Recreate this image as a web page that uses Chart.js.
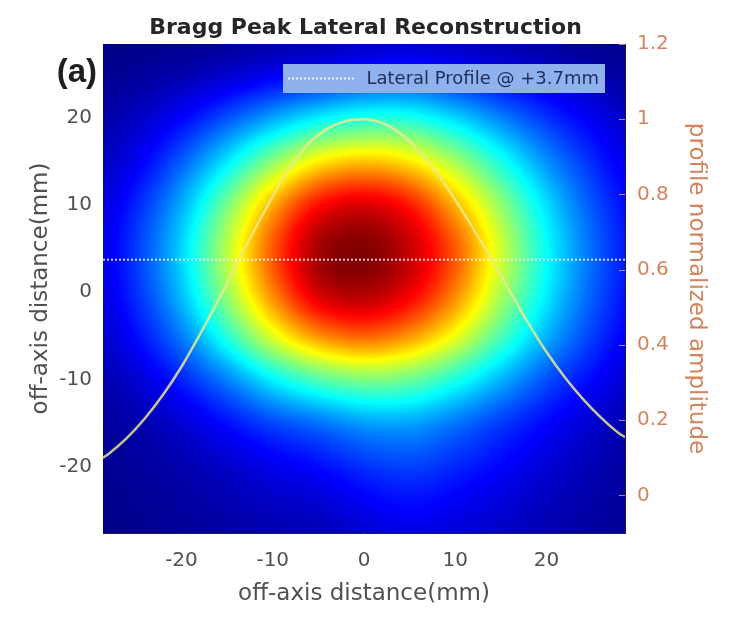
<!DOCTYPE html>
<html>
<head>
<meta charset="utf-8">
<title>Bragg Peak Lateral Reconstruction</title>
<script src="https://cdn.jsdelivr.net/npm/chart.js@4.4.1/dist/chart.umd.min.js"></script>
<style>
  html, body { margin: 0; padding: 0; background: #fff; }
</style>
</head>
<body>
<canvas id="myChart" width="731" height="617"></canvas>
<script>
// Axis limits (mm for the map, normalized units for the profile)
const xLimits = [-28.6, 28.6];
const yLimits = [-27.6, 28.4];
const ampLimits = [-0.1, 1.2];

const xTicks = [-20, -10, 0, 10, 20];
const yTicks = [-20, -10, 0, 10, 20];
const ampTicks = [0, 0.2, 0.4, 0.6, 0.8, 1, 1.2];

// Lateral profile taken at +3.7 mm
const profileDepth = 3.7;
const profileX = [-28.6, -28, -26, -24, -22, -20, -18, -16, -14, -12, -10, -8, -6, -4, -2, 0,
                  2, 4, 6, 8, 10, 12, 14, 16, 18, 20, 22, 24, 26, 28, 28.6];
const profileAmp = [0.100, 0.110, 0.152, 0.205, 0.268, 0.342, 0.427, 0.517, 0.612, 0.706, 0.795, 0.876, 0.937, 0.975, 0.995, 1.0,
                    0.990, 0.962, 0.916, 0.857, 0.786, 0.708, 0.627, 0.542, 0.458, 0.381, 0.314, 0.256, 0.206, 0.164, 0.155];

// Reconstructed dose map, sampled every 5 mm (rows run from +30 mm down to -30 mm)
const mapX = [-30, -25, -20, -15, -10, -5, 0, 5, 10, 15, 20, 25, 30];
const mapY = [30, 25, 20, 15, 10, 5, 0, -5, -10, -15, -20, -25, -30];
const mapValues = [
  [0.003, 0.006, 0.010, 0.015, 0.021, 0.026, 0.037, 0.043, 0.037, 0.028, 0.019, 0.012, 0.007],
  [0.013, 0.025, 0.045, 0.074, 0.108, 0.135, 0.162, 0.171, 0.145, 0.112, 0.078, 0.048, 0.027],
  [0.031, 0.065, 0.123, 0.202, 0.285, 0.357, 0.399, 0.395, 0.333, 0.250, 0.173, 0.109, 0.060],
  [0.051, 0.110, 0.215, 0.353, 0.507, 0.634, 0.680, 0.643, 0.533, 0.396, 0.266, 0.165, 0.094],
  [0.071, 0.158, 0.294, 0.490, 0.703, 0.862, 0.907, 0.850, 0.698, 0.517, 0.344, 0.208, 0.119],
  [0.080, 0.180, 0.334, 0.557, 0.788, 0.961, 0.996, 0.930, 0.788, 0.578, 0.379, 0.230, 0.130],
  [0.076, 0.169, 0.315, 0.525, 0.746, 0.918, 0.954, 0.891, 0.748, 0.548, 0.362, 0.219, 0.125],
  [0.059, 0.133, 0.247, 0.413, 0.597, 0.732, 0.780, 0.728, 0.611, 0.449, 0.301, 0.185, 0.105],
  [0.039, 0.082, 0.158, 0.253, 0.368, 0.456, 0.501, 0.482, 0.403, 0.303, 0.205, 0.130, 0.071],
  [0.023, 0.044, 0.082, 0.138, 0.195, 0.237, 0.280, 0.286, 0.241, 0.183, 0.129, 0.080, 0.044],
  [0.013, 0.027, 0.047, 0.074, 0.106, 0.133, 0.171, 0.189, 0.162, 0.125, 0.086, 0.053, 0.031],
  [0.009, 0.017, 0.030, 0.045, 0.062, 0.074, 0.105, 0.125, 0.108, 0.084, 0.058, 0.038, 0.022],
  [0.007, 0.012, 0.018, 0.025, 0.034, 0.042, 0.062, 0.080, 0.070, 0.057, 0.041, 0.027, 0.017]
];

const tickGrey = '#505050';
const ampColor = 'rgb(212,132,92)';
Chart.defaults.font.family = '"DejaVu Sans", sans-serif';

// jet colormap, v in [0, 1]
function jet(v) {
  const c = t => Math.max(0, Math.min(1, t)) * 255;
  return [c(Math.min(4 * v - 1.5, -4 * v + 4.5)), c(Math.min(4 * v - 0.5, -4 * v + 3.5)), c(Math.min(4 * v + 0.5, -4 * v + 2.5))];
}

// Catmull-Rom between grid samples so the map shades smoothly
function cr(p0, p1, p2, p3, t) {
  return p1 + 0.5 * t * (p2 - p0 + t * (2 * p0 - 5 * p1 + 4 * p2 - p3 + t * (3 * (p1 - p2) + p3 - p0)));
}
function sampleMap(xv, yv) {
  const nx = mapX.length, ny = mapY.length;
  const fx = (xv - mapX[0]) / (mapX[1] - mapX[0]);
  const fy = (yv - mapY[0]) / (mapY[1] - mapY[0]);
  const ix = Math.min(Math.max(Math.floor(fx), 0), nx - 2);
  const iy = Math.min(Math.max(Math.floor(fy), 0), ny - 2);
  const tx = Math.min(Math.max(fx - ix, 0), 1);
  const ty = Math.min(Math.max(fy - iy, 0), 1);
  const at = (r, c) => mapValues[Math.min(Math.max(r, 0), ny - 1)][Math.min(Math.max(c, 0), nx - 1)];
  const rows = [];
  for (let k = -1; k <= 2; k++) {
    rows.push(cr(at(iy + k, ix - 1), at(iy + k, ix), at(iy + k, ix + 1), at(iy + k, ix + 2), tx));
  }
  return cr(rows[0], rows[1], rows[2], rows[3], ty);
}

// paints the dose map under the datasets, pixel by pixel through the x / y scales
let mapImage = null;
const doseMap = {
  id: 'doseMap',
  beforeDatasetsDraw(chart) {
    const { ctx, chartArea: a, scales: { x, y } } = chart;
    const w = Math.round(a.right - a.left), h = Math.round(a.bottom - a.top);
    if (!mapImage) {
      mapImage = document.createElement('canvas');
      mapImage.width = w; mapImage.height = h;
      const mctx = mapImage.getContext('2d');
      const img = mctx.createImageData(w, h);
      for (let j = 0; j < h; j++) {
        const yv = y.getValueForPixel(a.top + j + 0.5);
        for (let i = 0; i < w; i++) {
          const xv = x.getValueForPixel(a.left + i + 0.5);
          const rgb = jet(sampleMap(xv, yv));
          const k = (j * w + i) * 4;
          img.data[k] = rgb[0]; img.data[k + 1] = rgb[1]; img.data[k + 2] = rgb[2]; img.data[k + 3] = 255;
        }
      }
      mctx.putImageData(img, 0, 0);
    }
    ctx.drawImage(mapImage, a.left, a.top);
  }
};

// legend box in the top right corner of the map
const legendBox = {
  id: 'legendBox',
  afterDatasetsDraw(chart) {
    const { ctx, chartArea: a } = chart;
    const ds = chart.data.datasets[1];
    const w = 322, h = 29;
    const left = a.right - 20 - w, top = a.top + 20;
    ctx.save();
    ctx.fillStyle = '#8fb1ee';
    ctx.fillRect(left, top, w, h);
    ctx.strokeStyle = ds.borderColor;
    ctx.lineWidth = ds.borderWidth;
    ctx.setLineDash(ds.borderDash);
    ctx.beginPath();
    ctx.moveTo(left + 5, top + h / 2);
    ctx.lineTo(left + 72, top + h / 2);
    ctx.stroke();
    ctx.setLineDash([]);
    ctx.fillStyle = '#1f2d58';
    ctx.font = '18px "DejaVu Sans", sans-serif';
    ctx.textAlign = 'right';
    ctx.textBaseline = 'middle';
    ctx.fillText(ds.label, left + w - 6, top + h / 2 + 1);
    ctx.restore();
  }
};

// panel letter and inward tick marks of the amplitude axis
const panelExtras = {
  id: 'panelExtras',
  afterDraw(chart) {
    const { ctx, chartArea: a, scales: { y2 } } = chart;
    ctx.save();
    ctx.strokeStyle = 'rgba(215,170,150,0.8)';
    ctx.lineWidth = 1;
    ampTicks.forEach(v => {
      const py = Math.round(y2.getPixelForValue(v)) + 0.5;
      ctx.beginPath();
      ctx.moveTo(a.right - 6, py);
      ctx.lineTo(a.right, py);
      ctx.stroke();
    });
    ctx.fillStyle = '#1e1e1e';
    ctx.font = 'bold 33px "Liberation Sans", sans-serif';
    ctx.textAlign = 'right';
    ctx.textBaseline = 'alphabetic';
    ctx.fillText('(a)', a.left - 6, 82);
    ctx.restore();
  }
};

const ctx = document.getElementById('myChart').getContext('2d');

new Chart(ctx, {
  type: 'line',
  data: {
    datasets: [
      {
        label: 'profile',
        data: profileX.map((v, i) => ({ x: v, y: profileAmp[i] })),
        yAxisID: 'y2',
        borderColor: 'rgba(236,232,140,0.85)',
        borderWidth: 2.5,
        pointRadius: 0,
        cubicInterpolationMode: 'monotone',
        fill: false
      },
      {
        label: `Lateral Profile @ +${profileDepth}mm`,
        data: xLimits.map(v => ({ x: v, y: profileDepth })),
        yAxisID: 'y',
        borderColor: 'rgba(255,255,255,0.8)',
        borderWidth: 2,
        borderDash: [2, 2],
        pointRadius: 0,
        fill: false
      }
    ]
  },
  options: {
    responsive: false,
    animation: false,
    events: [],
    layout: { padding: 0 },
    plugins: {
      legend: { display: false },
      tooltip: { enabled: false },
      title: {
        display: true,
        text: 'Bragg Peak Lateral Reconstruction',
        color: '#262626',
        font: { size: 22, weight: 'bold' },
        padding: { top: 15, bottom: 2.6 }
      }
    },
    scales: {
      x: {
        type: 'linear',
        min: xLimits[0],
        max: xLimits[1],
        afterBuildTicks: s => { s.ticks = xTicks.map(v => ({ value: v })); },
        afterFit: s => { s.height = 84; },
        grid: { display: false, drawTicks: false },
        border: { color: '#1c1c44' },
        ticks: { padding: 16, color: tickGrey, font: { size: 20 }, callback: v => String(v) },
        title: {
          display: true, text: 'off-axis distance(mm)', color: tickGrey,
          font: { size: 23 }, padding: { top: 0, bottom: 9 }
        }
      },
      y: {
        type: 'linear',
        position: 'left',
        min: yLimits[0],
        max: yLimits[1],
        afterBuildTicks: s => { s.ticks = yTicks.map(v => ({ value: v })); },
        afterFit: s => { s.width = 103; },
        grid: { display: false, drawTicks: false },
        border: { color: '#1c1c44' },
        ticks: { padding: 11, color: tickGrey, font: { size: 20 }, callback: v => String(v) },
        title: {
          display: true, text: 'off-axis distance(mm)', color: tickGrey,
          font: { size: 23 }, padding: { top: 27, bottom: 0 }
        }
      },
      y2: {
        type: 'linear',
        position: 'right',
        min: ampLimits[0],
        max: ampLimits[1],
        afterBuildTicks: s => { s.ticks = ampTicks.map(v => ({ value: v })); },
        afterFit: s => { s.width = 106; },
        grid: { display: false, drawTicks: false },
        border: { color: '#1c1c44' },
        ticks: { padding: 12, color: ampColor, font: { size: 20 }, callback: v => String(v) },
        title: {
          display: true, text: 'profile normalized amplitude', color: ampColor,
          font: { size: 23 }, padding: { top: 21, bottom: 0 }
        }
      }
    }
  },
  plugins: [doseMap, legendBox, panelExtras]
});
</script>
</body>
</html>
